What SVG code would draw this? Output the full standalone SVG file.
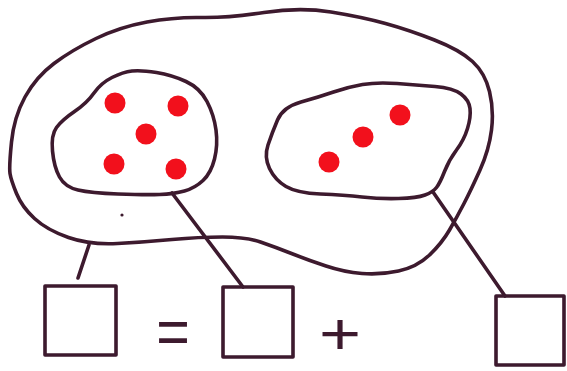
<svg xmlns="http://www.w3.org/2000/svg" width="567" height="371" viewBox="0 0 567 371">
<style>
.ln{fill:none;stroke:#3d1a2e;stroke-width:3.6;stroke-linecap:round;stroke-linejoin:round}
.dot{fill:#f2101c}
.sym{font-family:"Liberation Sans",Arial,sans-serif;fill:#3d1a2e}
</style>
<rect width="567" height="371" fill="#ffffff"/>
<g id="outer-set">
<path class="ln" d="M264,12.5 Q300,7 331,12 Q362,17 385.5,23.5 Q409,30 434.5,40 Q460,50 472.5,61.5 Q485,73 489.5,91.5 Q494,110 491.5,130 Q489,150 480,170 Q471,190 464,203.5 Q457,217 449.5,230 Q442,243 429.5,255 Q417,267 398.5,271 Q380,275 362,273.5 Q344,272 326,266 Q308,260 291.5,253.5 Q275,247 260.5,242 Q246,237 222.5,237 Q199,237 172,239.5 Q145,242 117.5,243.5 Q90,245 68.5,237.5 Q47,230 34.5,218.5 Q22,207 16.5,193.5 Q11,180 10,173.5 Q9,167 11.5,142 Q14,117 25,97 Q36,77 54,63.5 Q72,50 96,38.5 Q120,27 147,22 Q174,17 201,17.5 Q228,18 264,12.5 Z"/>
<circle cx="122" cy="215" r="1.6" fill="#3d1a2e"/>
</g>
<g id="inner-set-left">
<path class="ln" d="M132,71 Q141,70 156.5,72.5 Q172,75 186,81.5 Q200,88 207,101.5 Q214,115 216,130 Q218,145 214.5,159 Q211,173 203,180.5 Q195,188 184.5,191 Q174,194 159.5,194.5 Q145,195 118,194 Q91,193 78,190 Q65,187 59.5,177 Q54,167 52.5,151 Q51,135 56.5,127.5 Q62,120 74.5,111.5 Q87,103 94,93 Q101,83 112,77.5 Q123,72 132,71 Z"/>
<circle class="dot" cx="115" cy="103" r="10.5"/>
<circle class="dot" cx="178" cy="106" r="10.5"/>
<circle class="dot" cx="146" cy="134" r="10.5"/>
<circle class="dot" cx="114" cy="164" r="10.5"/>
<circle class="dot" cx="176" cy="169" r="10.5"/>
</g>
<g id="inner-set-right">
<path class="ln" d="M362.5,84.5 Q377,82 397,83.5 Q417,85 435,86.5 Q453,88 461,94 Q469,100 470,108.5 Q471,117 467.5,128.5 Q464,140 456.5,150 Q449,160 444.5,171.5 Q440,183 436.5,187.5 Q433,192 425,195 Q417,198 398.5,198.5 Q380,199 362,197 Q344,195 320.5,194 Q297,193 286,186.5 Q275,180 269.5,168.5 Q264,157 268,145 Q272,133 277.5,120 Q283,107 301,102 Q319,97 333.5,92 Q348,87 362.5,84.5 Z"/>
<circle class="dot" cx="400" cy="115" r="10.5"/>
<circle class="dot" cx="363" cy="137" r="10.5"/>
<circle class="dot" cx="329" cy="162" r="10.5"/>
</g>
<g id="connectors">
<line class="ln" x1="89" y1="245" x2="78" y2="278"/>
<line class="ln" x1="172" y1="193" x2="243" y2="287"/>
<line class="ln" x1="433" y1="192" x2="505" y2="296"/>
</g>
<g id="box-left"><rect class="ln" x="45" y="286" width="71" height="69"/></g>
<g id="box-middle"><rect class="ln" x="223" y="287" width="70" height="70"/></g>
<g id="box-right"><rect class="ln" x="496" y="296" width="68" height="69"/></g>
<g id="symbols">
<g transform="translate(173,333) scale(1.25,1.4)"><text class="sym" x="0" y="15" font-size="46" text-anchor="middle">=</text></g>
<g transform="translate(340,331.5) scale(1.2,1)"><text class="sym" x="0" y="22" font-size="60" text-anchor="middle">+</text></g>
</g>
</svg>
